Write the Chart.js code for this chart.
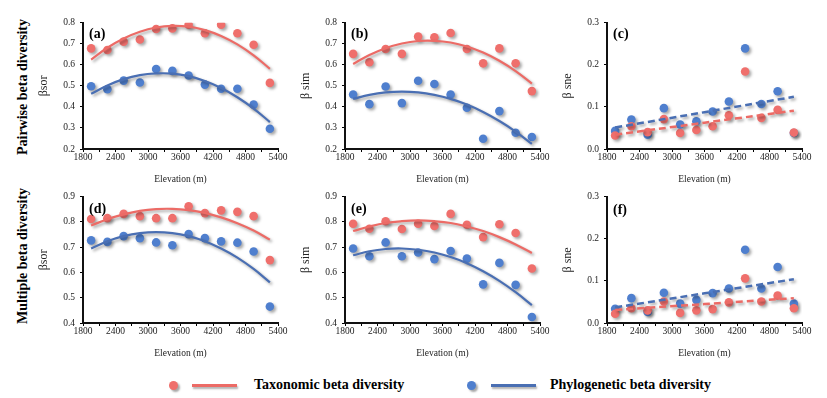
<!DOCTYPE html>
<html lang="en">
<head>
  <meta charset="UTF-8">
  <title>Beta diversity along elevation</title>
  <script src="https://cdn.jsdelivr.net/npm/chart.js"></script>
  <style>
    body {
      margin: 0;
      padding: 0;
      background: #fff;
      font-family: "Liberation Serif", "Times New Roman", serif;
    }
    #wrap {
      position: relative;
      width: 827px;
      height: 398px;
    }
    canvas {
      position: absolute;
    }
    .rowlabel {
      position: absolute;
      font-weight: bold;
      font-size: 14px;
      white-space: nowrap;
      transform: translate(-50%, -50%) rotate(-90deg);
    }
    .tag {
      position: absolute;
      font-weight: bold;
      font-size: 14px;
      line-height: 16px;
    }
    .dot {
      position: absolute;
      width: 9px;
      height: 9px;
      border-radius: 50%;
      box-shadow: 2px 2px 2px rgba(0,0,0,0.35);
    }
    .bar {
      position: absolute;
      height: 3px;
      box-shadow: 1px 2px 2px rgba(0,0,0,0.3);
    }
    .ltext {
      position: absolute;
      font-weight: bold;
      font-size: 14px;
      white-space: nowrap;
    }
  </style>
</head>
<body>
<div id="wrap">
  <div class="rowlabel" style="left:23px; top:87px;">Pairwise beta diversity</div>
  <div class="rowlabel" style="left:23px; top:256px;">Multiple beta diversity</div>

  <canvas id="pa" width="258" height="175" style="left:35px; top:12px;"></canvas>
  <canvas id="pb" width="258" height="175" style="left:297px; top:12px;"></canvas>
  <canvas id="pc" width="258" height="175" style="left:559px; top:12px;"></canvas>
  <canvas id="pd" width="258" height="175" style="left:35px; top:186px;"></canvas>
  <canvas id="pe" width="258" height="175" style="left:297px; top:186px;"></canvas>
  <canvas id="pf" width="258" height="175" style="left:559px; top:186px;"></canvas>

  <div class="tag" style="left:89px; top:26px;">(a)</div>
  <div class="tag" style="left:351px; top:26px;">(b)</div>
  <div class="tag" style="left:613px; top:26px;">(c)</div>
  <div class="tag" style="left:89px; top:201px;">(d)</div>
  <div class="tag" style="left:351px; top:201px;">(e)</div>
  <div class="tag" style="left:613px; top:202px;">(f)</div>

  <div class="dot" style="left:169px; top:381px; background:#ef6f6c;"></div>
  <div class="bar" style="left:192px; top:384px; width:45px; background:#ec6b66;"></div>
  <div class="ltext" style="left:254px; top:377px;">Taxonomic beta diversity</div>
  <div class="dot" style="left:467px; top:381px; background:#4f7fce;"></div>
  <div class="bar" style="left:491px; top:384px; width:45px; background:#4a6fb3;"></div>
  <div class="ltext" style="left:550px; top:377px;">Phylogenetic beta diversity</div>
</div>

<script>
  // sampling elevations (m)
  var elevation = [1950, 2250, 2550, 2850, 3150, 3450, 3750, 4050, 4350, 4650, 4950, 5250];
  var xTickLabels = [1800, 2400, 3000, 3600, 4200, 4800, 5400];
  var lineEnds = [1950, 5250];

  // (a) pairwise beta sor
  var sorPairTaxo = [0.678, 0.670, 0.710, 0.720, 0.770, 0.773, 0.790, 0.750, 0.790, 0.750, 0.695, 0.514];
  var sorPairPhylo = [0.498, 0.484, 0.525, 0.516, 0.580, 0.571, 0.549, 0.506, 0.486, 0.486, 0.411, 0.296];
  var sorPairTaxoFit = [0.625, 0.681, 0.725, 0.757, 0.777, 0.785, 0.781, 0.765, 0.737, 0.697, 0.645, 0.581];
  var sorPairPhyloFit = [0.462, 0.502, 0.532, 0.551, 0.559, 0.558, 0.546, 0.523, 0.490, 0.446, 0.392, 0.328];

  // (b) pairwise beta sim
  var simPairTaxo = [0.652, 0.612, 0.675, 0.652, 0.734, 0.731, 0.751, 0.675, 0.607, 0.678, 0.607, 0.475];
  var simPairPhylo = [0.459, 0.413, 0.497, 0.418, 0.524, 0.509, 0.459, 0.396, 0.249, 0.380, 0.277, 0.257];
  var simPairTaxoFit = [0.604, 0.647, 0.679, 0.701, 0.713, 0.714, 0.706, 0.687, 0.658, 0.619, 0.570, 0.511];
  var simPairPhyloFit = [0.438, 0.457, 0.469, 0.473, 0.469, 0.457, 0.438, 0.411, 0.376, 0.333, 0.283, 0.224];

  // (c) pairwise beta sne
  var snePairTaxo = [0.032, 0.054, 0.040, 0.071, 0.038, 0.045, 0.054, 0.080, 0.184, 0.074, 0.093, 0.039];
  var snePairPhylo = [0.043, 0.070, 0.034, 0.097, 0.058, 0.066, 0.089, 0.113, 0.239, 0.107, 0.137, 0.038];
  var snePairTaxoFit = [0.034, 0.091];
  var snePairPhyloFit = [0.051, 0.124];

  // (d) multiple beta sor
  var sorMultiTaxo = [0.812, 0.815, 0.832, 0.823, 0.815, 0.815, 0.862, 0.835, 0.846, 0.840, 0.823, 0.649];
  var sorMultiPhylo = [0.727, 0.721, 0.744, 0.736, 0.719, 0.708, 0.752, 0.736, 0.723, 0.718, 0.683, 0.465];
  var sorMultiTaxoFit = [0.786, 0.811, 0.830, 0.844, 0.851, 0.852, 0.847, 0.836, 0.818, 0.795, 0.766, 0.730];
  var sorMultiPhyloFit = [0.695, 0.724, 0.744, 0.756, 0.760, 0.756, 0.744, 0.724, 0.695, 0.659, 0.614, 0.561];

  // (e) multiple beta sim
  var simMultiTaxo = [0.793, 0.773, 0.803, 0.772, 0.793, 0.784, 0.832, 0.789, 0.740, 0.791, 0.756, 0.616];
  var simMultiPhylo = [0.695, 0.664, 0.719, 0.664, 0.679, 0.653, 0.685, 0.655, 0.553, 0.638, 0.551, 0.424];
  var simMultiTaxoFit = [0.764, 0.782, 0.796, 0.803, 0.806, 0.803, 0.796, 0.782, 0.764, 0.740, 0.711, 0.677];
  var simMultiPhyloFit = [0.668, 0.684, 0.693, 0.695, 0.690, 0.679, 0.661, 0.637, 0.605, 0.567, 0.522, 0.471];

  // (f) multiple beta sne
  var sneMultiTaxo = [0.022, 0.035, 0.030, 0.051, 0.024, 0.030, 0.033, 0.049, 0.106, 0.051, 0.065, 0.035];
  var sneMultiPhylo = [0.034, 0.059, 0.026, 0.072, 0.046, 0.055, 0.071, 0.082, 0.174, 0.082, 0.133, 0.046];
  var sneMultiTaxoFit = [0.031, 0.059];
  var sneMultiPhyloFit = [0.037, 0.104];

  var red = '#ef6f6c', redLine = '#ec6b66';
  var blue = '#4f7fce', blueLine = '#4a6fb3';
  var serif = "'Liberation Serif', 'Times New Roman', serif";

  function pts(xs, ys) {
    return xs.map(function (x, i) { return { x: x, y: ys[i] }; });
  }

  // soft grey drop shadow like the original figure
  var shadowPlugin = {
    id: 'shadow',
    beforeDatasetDraw: function (chart) {
      var c = chart.ctx;
      c.save();
      c.shadowColor = 'rgba(0,0,0,0.35)';
      c.shadowBlur = 3;
      c.shadowOffsetX = 2;
      c.shadowOffsetY = 2;
    },
    afterDatasetDraw: function (chart) {
      chart.ctx.restore();
    }
  };

  function makePanel(id, p) {
    var fitX = p.dashed ? lineEnds : elevation;
    var fitStyle = {
      showLine: true,
      pointRadius: 0,
      borderWidth: p.dashed ? 2.5 : 2.2,
      tension: 0.4,
      borderDash: p.dashed ? [7, 4] : []
    };
    new Chart(document.getElementById(id), {
      type: 'scatter',
      data: {
        datasets: [
          Object.assign({ data: pts(fitX, p.taxoFit), borderColor: redLine }, fitStyle),
          Object.assign({ data: pts(fitX, p.phyloFit), borderColor: blueLine }, fitStyle),
          { data: pts(elevation, p.taxo), backgroundColor: red, borderWidth: 0, pointRadius: 4.3 },
          { data: pts(elevation, p.phylo), backgroundColor: blue, borderWidth: 0, pointRadius: 4.3 }
        ]
      },
      options: {
        responsive: false,
        animation: false,
        layout: { padding: { top: 10, right: 15, left: 0, bottom: 0 } },
        plugins: { legend: { display: false }, tooltip: { enabled: false } },
        scales: {
          x: {
            type: 'linear',
            min: xTickLabels[0],
            max: xTickLabels[xTickLabels.length - 1],
            afterFit: function (s) { s.height = 38; },
            ticks: {
              stepSize: 300,
              autoSkip: false,
              maxRotation: 0,
              padding: 0,
              color: '#222',
              font: { family: serif, size: 9.5 },
              callback: function (v) { return xTickLabels.indexOf(v) >= 0 ? String(v) : ''; }
            },
            grid: { display: true, drawOnChartArea: false, tickLength: 3, color: '#000' },
            border: { display: true, color: '#111', width: 2 },
            title: {
              display: true,
              text: 'Elevation (m)',
              color: '#222',
              padding: { top: 4, bottom: 2 },
              font: { family: serif, size: 9.5 }
            }
          },
          y: {
            min: p.yMin,
            max: p.yMax,
            afterFit: function (s) { s.width = 48; },
            ticks: {
              stepSize: 0.1,
              padding: 5,
              color: '#222',
              font: { family: serif, size: 9.5 },
              callback: function (v) { return v.toFixed(1); }
            },
            grid: { display: true, drawOnChartArea: false, tickLength: 3, color: '#000' },
            border: { display: true, color: '#111', width: 2 },
            title: {
              display: true,
              text: p.yTitle,
              color: '#222',
              padding: { top: 2, bottom: 0 },
              font: { family: serif, size: 12 }
            }
          }
        }
      },
      plugins: [shadowPlugin]
    });
  }

  makePanel('pa', { yMin: 0.2, yMax: 0.8, yTitle: 'βsor', taxo: sorPairTaxo, phylo: sorPairPhylo, taxoFit: sorPairTaxoFit, phyloFit: sorPairPhyloFit });
  makePanel('pb', { yMin: 0.2, yMax: 0.8, yTitle: 'β sim', taxo: simPairTaxo, phylo: simPairPhylo, taxoFit: simPairTaxoFit, phyloFit: simPairPhyloFit });
  makePanel('pc', { yMin: 0, yMax: 0.3, yTitle: 'β sne', taxo: snePairTaxo, phylo: snePairPhylo, taxoFit: snePairTaxoFit, phyloFit: snePairPhyloFit, dashed: true });
  makePanel('pd', { yMin: 0.4, yMax: 0.9, yTitle: 'βsor', taxo: sorMultiTaxo, phylo: sorMultiPhylo, taxoFit: sorMultiTaxoFit, phyloFit: sorMultiPhyloFit });
  makePanel('pe', { yMin: 0.4, yMax: 0.9, yTitle: 'β sim', taxo: simMultiTaxo, phylo: simMultiPhylo, taxoFit: simMultiTaxoFit, phyloFit: simMultiPhyloFit });
  makePanel('pf', { yMin: 0, yMax: 0.3, yTitle: 'β sne', taxo: sneMultiTaxo, phylo: sneMultiPhylo, taxoFit: sneMultiTaxoFit, phyloFit: sneMultiPhyloFit, dashed: true });
</script>
</body>
</html>
